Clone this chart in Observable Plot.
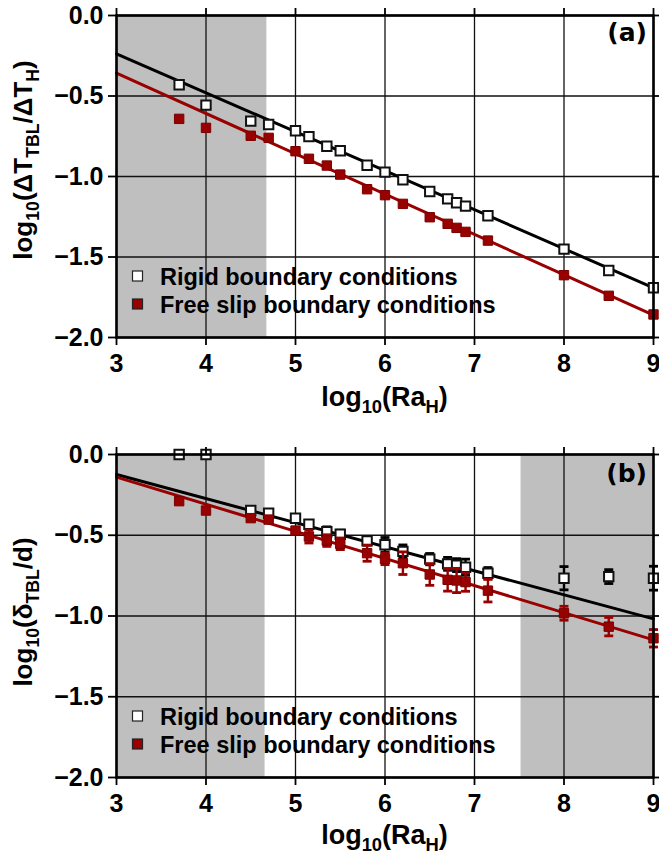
<!DOCTYPE html>
<html><head><meta charset="utf-8">
<script src="https://cdn.jsdelivr.net/npm/d3@7"></script>
<script src="https://cdn.jsdelivr.net/npm/@observablehq/plot@0.6"></script>
<style>
body{margin:0;background:#fff;}
#wrap{position:relative;width:659px;height:856px;overflow:hidden;}
#wrap svg{position:absolute;left:0;}
</style></head><body><div id="wrap"></div>
<script>
// ---- data ----
const logRa = [3.7, 4.0, 4.5, 4.7, 5.0, 5.15, 5.35, 5.5, 5.8, 6.0, 6.2, 6.5, 6.7, 6.8, 6.9, 7.15, 8.0, 8.5, 9.0];
// panel (a): log10(dT_TBL/dT_H)
const dTRigid = [-0.43, -0.557, -0.656, -0.677, -0.716, -0.752, -0.812, -0.84, -0.93, -0.973, -1.02, -1.093, -1.139, -1.163, -1.184, -1.244, -1.451, -1.584, -1.691];
const dTFree  = [-0.642, -0.698, -0.747, -0.76, -0.843, -0.89, -0.932, -0.988, -1.079, -1.116, -1.17, -1.253, -1.294, -1.319, -1.344, -1.398, -1.613, -1.741, -1.857];
// panel (b): log10(delta_TBL/d)
const deltaRigid    = [0.0, 0.0, -0.347, -0.364, -0.395, -0.432, -0.478, -0.494, -0.535, -0.559, -0.6, -0.648, -0.677, -0.685, -0.698, -0.735, -0.766, -0.756, -0.766];
const deltaRigidErr = [0, 0, 0, 0, 0, 0, 0.03, 0.025, 0.025, 0.045, 0.04, 0.035, 0.04, 0.04, 0.05, 0.035, 0.072, 0.043, 0.074];
const deltaFree     = [-0.289, -0.347, -0.394, -0.403, -0.471, -0.508, -0.533, -0.553, -0.611, -0.646, -0.673, -0.743, -0.776, -0.78, -0.79, -0.843, -0.983, -1.066, -1.138];
const deltaFreeErr  = [0, 0, 0, 0, 0.015, 0.04, 0.036, 0.036, 0.05, 0.036, 0.07, 0.067, 0.07, 0.075, 0.057, 0.07, 0.043, 0.057, 0.054];
// fitted lines (endpoints)
const fitX = [3, 9];
const fitARigid = [-0.238, -1.691];
const fitAFree  = [-0.358, -1.861];
const fitBRigid = [-0.124, -1.018];
const fitBFree  = [-0.140, -1.148];
// shaded ranges
const shadeA = [[3, 4.68]];
const shadeB = [[3, 4.66], [7.52, 9]];
// ticks and text
const xTicks = [3, 4, 5, 6, 7, 8, 9];
const yTicks = [0, -0.5, -1, -1.5, -2];
const legendLabels = ["Rigid boundary conditions", "Free slip boundary conditions"];
const xLabel = [["log"], ["10", 1], ["(Ra"], ["H", 1], [")"]];
const yLabelA = [["log"], ["10", 1], ["(\u0394T"], ["TBL", 1], ["/\u0394T"], ["H", 1], [")"]];
const yLabelB = [["log"], ["10", 1], ["(\u03B4"], ["TBL", 1], ["/d)"]];
const panelTags = ["(a)", "(b)"];

const RED = "#990000";
const FONT = "'Liberation Sans', Arial, Helvetica, sans-serif";

const capSymbol = { draw(ctx) { ctx.moveTo(-4.5, 0); ctx.lineTo(4.5, 0); } };

function series(ys, errs) {
  return logRa.map((x, i) => ({ x, y: ys[i], err: errs ? errs[i] : 0 }));
}
function fitLine(ys) { return fitX.map((x, i) => ({ x, y: ys[i] })); }

function panel({ top, height, mTop, mBottom, shade, rigid, free, fitR, fitF }) {
  const marks = [
    Plot.rect(shade, { x1: d => d[0], x2: d => d[1], y1: -2, y2: 0, fill: "#bfbfbf" }),
    Plot.gridX(xTicks, { stroke: "#111", strokeOpacity: 1, strokeWidth: 1.3 }),
    Plot.gridY(yTicks, { stroke: "#111", strokeOpacity: 1, strokeWidth: 1.3 }),
    Plot.line(fitLine(fitR), { x: "x", y: "y", stroke: "black", strokeWidth: 3 }),
    Plot.line(fitLine(fitF), { x: "x", y: "y", stroke: RED, strokeWidth: 3 })
  ];
  const re = rigid.filter(d => d.err > 0), fe = free.filter(d => d.err > 0);
  marks.push(
    Plot.ruleX(re, { x: "x", y1: d => d.y - d.err, y2: d => d.y + d.err, stroke: "black", strokeWidth: 2.4 }),
    Plot.dot(re, { x: "x", y: d => d.y + d.err, symbol: capSymbol, fill: "none", stroke: "black", strokeWidth: 2.8 }),
    Plot.dot(re, { x: "x", y: d => d.y - d.err, symbol: capSymbol, fill: "none", stroke: "black", strokeWidth: 2.8 }),
    Plot.dot(rigid, { x: "x", y: "y", symbol: "square", r: 5.3, fill: "white", stroke: "#111", strokeWidth: 2 }),
    Plot.ruleX(fe, { x: "x", y1: d => d.y - d.err, y2: d => d.y + d.err, stroke: RED, strokeWidth: 2.4 }),
    Plot.dot(fe, { x: "x", y: d => d.y + d.err, symbol: capSymbol, fill: "none", stroke: RED, strokeWidth: 2.8 }),
    Plot.dot(fe, { x: "x", y: d => d.y - d.err, symbol: capSymbol, fill: "none", stroke: RED, strokeWidth: 2.8 }),
    Plot.dot(free, { x: "x", y: "y", symbol: "square", r: 5.3, fill: RED, stroke: "#7a0000", strokeWidth: 1 }),
    Plot.frame({ stroke: "black", strokeWidth: 2.6 }),
    Plot.axisX(xTicks, { anchor: "bottom", tickSize: 8, tickPadding: 9, strokeWidth: 1.8, label: null, tickFormat: d3.format("d") }),
    Plot.axisX(xTicks, { anchor: "top", tickSize: 8, strokeWidth: 1.8, label: null, tickFormat: () => "" }),
    Plot.axisY(yTicks, { anchor: "left", tickSize: 8, tickPadding: 5, strokeWidth: 1.8, label: null, tickFormat: d3.format(".1f") }),
    Plot.axisY(yTicks, { anchor: "right", tickSize: 6, strokeWidth: 1.8, label: null, tickFormat: () => "" })
  );
  const svg = Plot.plot({
    width: 659, height,
    marginLeft: 116, marginRight: 6, marginTop: mTop, marginBottom: mBottom,
    x: { domain: [3, 9] },
    y: { domain: [-2, 0] },
    style: { fontFamily: FONT, fontWeight: "bold", fontSize: "25px", color: "black", background: "transparent", overflow: "visible" },
    marks
  });
  svg.style.top = top + "px";
  document.getElementById("wrap").appendChild(svg);
  return svg;
}

function rich(svg, parts, { x, y, size, rotate = false, anchor = "middle" }) {
  const t = d3.select(svg).append("text")
    .attr("font-family", FONT).attr("font-weight", "bold").attr("font-size", size)
    .attr("text-anchor", anchor).attr("fill", "black");
  if (rotate) t.attr("transform", `translate(${x},${y}) rotate(-90)`);
  else t.attr("x", x).attr("y", y);
  let shift = 0;
  for (const [s, sub] of parts) {
    const ts = t.append("tspan").text(s);
    if (sub) { const d = size * 0.27; ts.attr("font-size", size * 0.68).attr("dy", d - shift); shift = d; }
    else { ts.attr("dy", -shift); shift = 0; }
  }
}

function legend(svg, bottom) {
  const g = d3.select(svg).append("g");
  const rows = [{ cy: bottom - 61, fill: "white", stroke: "#222" }, { cy: bottom - 33, fill: RED, stroke: "#222" }];
  rows.forEach((r, i) => {
    g.append("rect").attr("x", 132.5).attr("y", r.cy - 5).attr("width", 10).attr("height", 10)
      .attr("fill", r.fill).attr("stroke", r.stroke).attr("stroke-width", 1.2);
    g.append("text").attr("x", 160).attr("y", r.cy + 8.5).attr("text-anchor", "start")
      .attr("font-family", FONT).attr("font-weight", "bold").attr("font-size", 23.5)
      .attr("fill", "black").text(legendLabels[i]);
  });
}

function tag(svg, text, y) {
  d3.select(svg).append("text").attr("x", 647).attr("y", y).attr("text-anchor", "end")
    .attr("font-family", "'DejaVu Sans', sans-serif").attr("font-weight", "bold").attr("font-size", 25)
    .attr("fill", "black").text(text);
}

// panel (a)
const svgA = panel({ top: 0, height: 420, mTop: 15, mBottom: 83, shade: shadeA,
  rigid: series(dTRigid), free: series(dTFree), fitR: fitARigid, fitF: fitAFree });
legend(svgA, 337);
tag(svgA, panelTags[0], 41);
rich(svgA, xLabel, { x: 384.5, y: 406, size: 27 });
rich(svgA, yLabelA, { x: 32, y: 160, size: 26, rotate: true });

// panel (b)
const svgB = panel({ top: 420, height: 436, mTop: 34, mBottom: 79, shade: shadeB,
  rigid: series(deltaRigid, deltaRigidErr), free: series(deltaFree, deltaFreeErr), fitR: fitBRigid, fitF: fitBFree });
legend(svgB, 357);
tag(svgB, panelTags[1], 62);
rich(svgB, xLabel, { x: 384.5, y: 424, size: 27 });
rich(svgB, yLabelB, { x: 32, y: 192, size: 26, rotate: true });
</script>
</body></html>
